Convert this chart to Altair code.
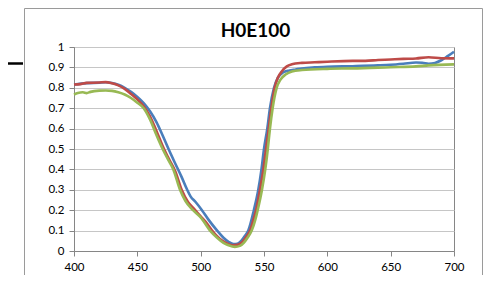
import altair as alt
import pandas as pd

# ---- data ----
blue_nm = [400, 410, 420, 425, 430, 435, 440, 445, 450, 455, 460, 465, 470, 475, 480, 485, 489, 492, 496, 501,
           506, 513, 518, 522, 526, 529, 532, 535, 537.6, 542, 545.5, 548, 550, 552.6, 554.7, 557.9, 561,
           565, 570, 575, 580, 590, 600, 620, 640, 650, 660, 670, 675, 680, 685, 690, 695, 700]
blue_val = [0.816, 0.823, 0.825, 0.827, 0.824, 0.815, 0.80, 0.78, 0.755, 0.725, 0.685, 0.633, 0.566, 0.495,
            0.428, 0.362, 0.305, 0.268, 0.24, 0.20, 0.155, 0.10, 0.065, 0.045, 0.034, 0.036, 0.05, 0.075,
            0.10, 0.20, 0.30, 0.40, 0.50, 0.60, 0.70, 0.80, 0.85, 0.875, 0.885, 0.89, 0.895, 0.90, 0.903,
            0.906, 0.91, 0.913, 0.918, 0.924, 0.923, 0.918, 0.922, 0.935, 0.955, 0.977]

red_nm = [400, 405, 410, 420, 425, 430, 435, 440, 445, 450, 455, 460, 465, 470, 475, 480, 485, 490, 495, 500,
          505, 509, 515, 520, 525, 529, 533, 536, 539, 541.5, 543.7, 546.8, 549.5, 551.6, 553.7, 555.8, 558.4,
          561, 564, 568, 572, 580, 590, 600, 620, 630, 640, 650, 660, 670, 680, 690, 700]
red_val = [0.816, 0.818, 0.824, 0.826, 0.828, 0.822, 0.812, 0.795, 0.77, 0.743, 0.71, 0.66, 0.59, 0.515,
           0.45, 0.39, 0.30, 0.24, 0.205, 0.17, 0.135, 0.10, 0.06, 0.04, 0.028, 0.03, 0.045, 0.07, 0.10,
           0.15, 0.20, 0.30, 0.40, 0.50, 0.60, 0.70, 0.80, 0.85, 0.88, 0.905, 0.915, 0.922, 0.925, 0.928,
           0.932, 0.932, 0.936, 0.939, 0.942, 0.944, 0.95, 0.945, 0.944]

green_nm = [400, 403, 407, 410, 413, 420, 425, 430, 435, 440, 445, 450, 455, 460, 465, 470, 475, 478.4, 483.7,
            488, 494, 500, 507.4, 513, 518, 522, 527, 531, 534, 537, 540.3, 543, 545, 548.4, 551, 553,
            554.7, 556.8, 560, 563, 567, 572, 580, 600, 620, 650, 670, 680, 700]
green_val = [0.767, 0.775, 0.778, 0.774, 0.78, 0.786, 0.787, 0.785, 0.778, 0.767, 0.75, 0.727, 0.70, 0.645,
             0.57, 0.50, 0.44, 0.40, 0.30, 0.245, 0.20, 0.165, 0.10, 0.065, 0.04, 0.028, 0.02, 0.025, 0.04,
             0.065, 0.10, 0.15, 0.20, 0.30, 0.40, 0.50, 0.60, 0.70, 0.80, 0.84, 0.865, 0.88, 0.887, 0.893,
             0.895, 0.901, 0.905, 0.91, 0.915]

series_names = ["Series1", "Series2", "Series3"]
series_colors = ["#4A7EBB", "#BE4B48", "#98B954"]
x_ticks = [400, 450, 500, 550, 600, 650, 700]
y_ticks = [0, 0.1, 0.2, 0.3, 0.4, 0.5, 0.6, 0.7, 0.8, 0.9, 1]
title_text = "H0E100"

rows = []
for name, xs, ys in zip(series_names, [blue_nm, red_nm, green_nm], [blue_val, red_val, green_val]):
    for i, (xv, yv) in enumerate(zip(xs, ys)):
        rows.append({"series": name, "nm": xv, "value": yv, "order": i})
df = pd.DataFrame(rows)

FONT = "Lato"
AX = "#868686"

lines = alt.Chart(df).mark_line(strokeWidth=2.6, interpolate="monotone").encode(
    x=alt.X("nm:Q", scale=alt.Scale(domain=[400, 700], nice=False, zero=False),
            axis=alt.Axis(values=x_ticks, title=None, grid=False, tickSize=5, tickColor=AX,
                          domainColor=AX, labelFont=FONT, labelFontSize=11.5, labelColor="black",
                          labelPadding=5, labelFlush=False)),
    y=alt.Y("value:Q", scale=alt.Scale(domain=[0, 1], nice=False),
            axis=alt.Axis(values=y_ticks, format="~g", title=None, grid=True, gridColor="#c6c6c6",
                          tickSize=5, tickColor=AX, domainColor=AX, labelFont=FONT,
                          labelFontSize=11.5, labelColor="black", labelPadding=5)),
    color=alt.Color("series:N", scale=alt.Scale(domain=series_names, range=series_colors), legend=None),
    order="order:Q",
)

one = pd.DataFrame({"title": [title_text]})
frame = alt.Chart(one).mark_rect(fill=None, stroke="#9a9a9a", strokeWidth=1).encode(
    x=alt.value(-49.5), x2=alt.value(408.5), y=alt.value(-38.5), y2=alt.value(260)
)
dash = alt.Chart(one).mark_rule(stroke="black", strokeWidth=2.5).encode(
    x=alt.value(-67), x2=alt.value(-51), y=alt.value(16.5)
)
title = alt.Chart(one).mark_text(font=FONT, fontSize=19, fontWeight="bold", color="black",
                                 align="center", baseline="middle").encode(
    text="title:N", x=alt.value(181.5), y=alt.value(-16.5)
)

chart = alt.layer(frame, dash, lines, title).properties(
    width=380, height=204,
    autosize=alt.AutoSizeParams(type="none"),
    padding={"left": 66, "top": 39, "right": 29, "bottom": 24},
).configure_view(stroke=AX, strokeWidth=1)

chart.save("out.html", embed_options={"renderer": "svg", "actions": False})
